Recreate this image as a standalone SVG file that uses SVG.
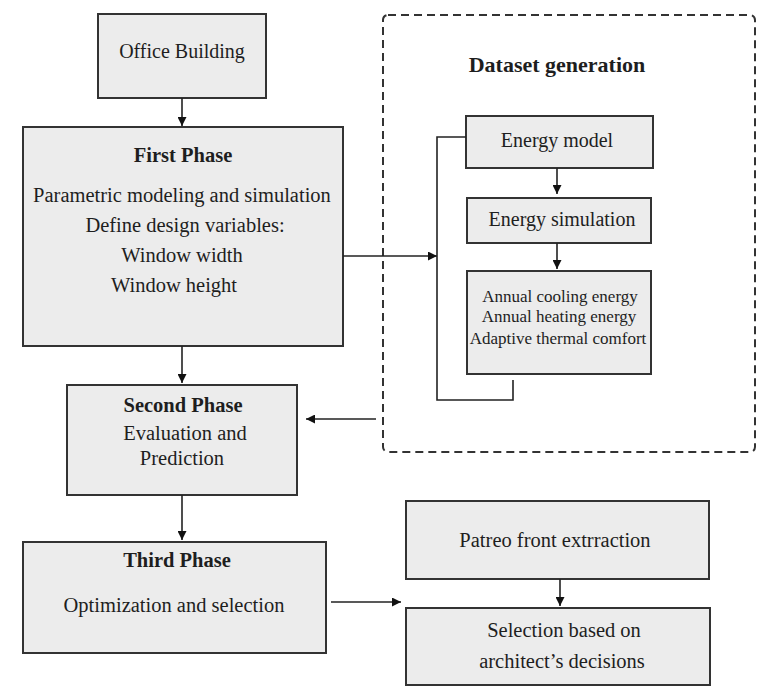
<svg xmlns="http://www.w3.org/2000/svg" width="766" height="697" viewBox="0 0 766 697">
<defs>
<style>
.box{fill:#ececec;stroke:#333;stroke-width:2}
.t{font-family:"Liberation Serif","Times New Roman",serif;fill:#1e1e1e;text-anchor:middle}
.b{font-weight:bold}
.ln{fill:none;stroke:#222;stroke-width:1.6}
.dash{fill:none;stroke:#333;stroke-width:2;stroke-dasharray:8 5}
</style>
<marker id="ah" viewBox="0 0 10 10" refX="10" refY="5" markerWidth="9" markerHeight="9" markerUnits="userSpaceOnUse" orient="auto">
<path d="M0,0 L10,5 L0,10 Z" fill="#111"/>
</marker>
</defs>
<rect width="766" height="697" fill="#fff"/>

<g id="dataset-group">
<rect class="dash" x="383" y="15" width="372" height="437" rx="5"/>
<text class="t b" x="557" y="72" font-size="22">Dataset generation</text>
</g>

<g id="office">
<rect class="box" x="98" y="14" width="168" height="84"/>
<text class="t" x="182" y="58" font-size="20">Office Building</text>
</g>

<g id="first-phase">
<rect class="box" x="23" y="127" width="320" height="219"/>
<text class="t b" x="183" y="162" font-size="20.5">First Phase</text>
<text class="t" x="182" y="202" font-size="20.5">Parametric modeling and simulation</text>
<text class="t" x="185" y="232" font-size="20.5">Define design variables:</text>
<text class="t" x="182" y="262" font-size="20.5">Window width</text>
<text class="t" x="174" y="292" font-size="20.5">Window height</text>
</g>

<g id="energy-model">
<rect class="box" x="466" y="116" width="187" height="52"/>
<text class="t" x="557" y="147" font-size="20">Energy model</text>
</g>

<g id="energy-simulation">
<rect class="box" x="467" y="198" width="184" height="45"/>
<text class="t" x="562" y="226" font-size="20">Energy simulation</text>
</g>

<g id="outputs">
<rect class="box" x="467" y="271" width="184" height="103"/>
<text class="t" x="560" y="302" font-size="17">Annual cooling energy</text>
<text class="t" x="559" y="322" font-size="17">Annual heating energy</text>
<text class="t" x="558" y="344" font-size="17">Adaptive thermal comfort</text>
</g>

<g id="second-phase">
<rect class="box" x="67" y="385" width="230" height="110"/>
<text class="t b" x="183" y="412" font-size="20.5">Second Phase</text>
<text class="t" x="185" y="440" font-size="20.5">Evaluation and</text>
<text class="t" x="182" y="465" font-size="20.5">Prediction</text>
</g>

<g id="third-phase">
<rect class="box" x="23" y="542" width="303" height="111"/>
<text class="t b" x="177" y="567" font-size="20.5">Third Phase</text>
<text class="t" x="174" y="612" font-size="20.5">Optimization and selection</text>
</g>

<g id="pareto">
<rect class="box" x="406" y="501" width="303" height="78"/>
<text class="t" x="555" y="547" font-size="20.5">Patreo front extrraction</text>
</g>

<g id="selection">
<rect class="box" x="406" y="608" width="304" height="77"/>
<text class="t" x="564" y="637" font-size="20.5">Selection based on</text>
<text class="t" x="562" y="668" font-size="20.5">architect’s decisions</text>
</g>

<g id="connectors">
<line class="ln" x1="182" y1="98" x2="182" y2="126" marker-end="url(#ah)"/>
<line class="ln" x1="343" y1="256" x2="437" y2="256" marker-end="url(#ah)"/>
<polyline class="ln" points="513,380 513,400 437,400 437,137 466,137"/>
<line class="ln" x1="557" y1="168" x2="557" y2="194" marker-end="url(#ah)"/>
<line class="ln" x1="557" y1="243" x2="557" y2="269" marker-end="url(#ah)"/>
<line class="ln" x1="182" y1="346" x2="182" y2="383" marker-end="url(#ah)"/>
<line class="ln" x1="376" y1="419" x2="306" y2="419" marker-end="url(#ah)"/>
<line class="ln" x1="182" y1="495" x2="182" y2="540" marker-end="url(#ah)"/>
<line class="ln" x1="331" y1="602" x2="401" y2="602" marker-end="url(#ah)"/>
<line class="ln" x1="560" y1="579" x2="560" y2="606" marker-end="url(#ah)"/>
</g>
</svg>
